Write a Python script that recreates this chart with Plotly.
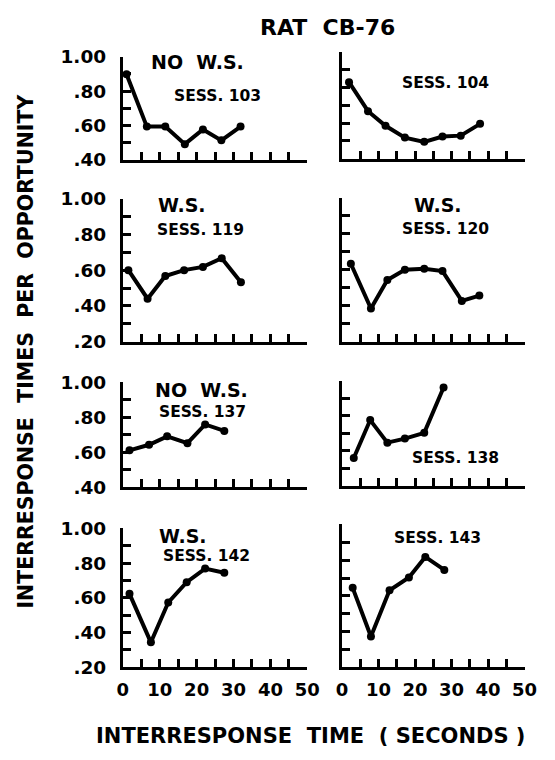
import plotly.graph_objects as go

W, H = 555, 760

# ---- data ----
X_103 = [1.0, 6.5, 11.5, 16.8, 21.7, 26.7, 31.9]
Y_103 = [0.898, 0.593, 0.593, 0.491, 0.576, 0.513, 0.593]
X_104 = [1.9, 7.1, 11.9, 17.2, 22.5, 27.5, 32.5, 37.8]
Y_104 = [0.83, 0.667, 0.585, 0.519, 0.495, 0.525, 0.53, 0.596]
X_119 = [1.5, 6.7, 11.5, 16.6, 21.7, 26.8, 32.0]
Y_119 = [0.60, 0.44, 0.567, 0.60, 0.618, 0.667, 0.532]
X_120 = [2.4, 7.9, 12.4, 17.2, 22.5, 27.5, 32.8, 37.6]
Y_120 = [0.633, 0.384, 0.543, 0.60, 0.605, 0.592, 0.426, 0.456]
X_137 = [1.8, 7.1, 12.0, 17.5, 22.3, 27.5]
Y_137 = [0.612, 0.644, 0.692, 0.653, 0.760, 0.723]
X_138 = [3.2, 7.7, 12.4, 17.2, 22.5, 27.8]
Y_138 = [0.557, 0.774, 0.645, 0.668, 0.701, 0.96]
X_142 = [1.8, 7.6, 12.3, 17.3, 22.3, 27.5]
Y_142 = [0.623, 0.344, 0.573, 0.69, 0.768, 0.744]
X_143 = [2.9, 7.9, 13.0, 18.3, 22.8, 28.0]
Y_143 = [0.645, 0.373, 0.631, 0.703, 0.818, 0.745]

Y_TICKS = [0.2, 0.3, 0.4, 0.5, 0.6, 0.7, 0.8, 0.9, 1.0]
Y_TICK_TEXT = [".20", "", ".40", "", ".60", "", ".80", "", "1.00"]
X_TICKS = [0, 5, 10, 15, 20, 25, 30, 35, 40, 45, 50]
X_TICK_TEXT = ["0", "", "10", "", "20", "", "30", "", "40", "", "50"]

TITLE = "RAT  CB-76"
X_TITLE = "INTERRESPONSE  TIME  ( SECONDS )"
Y_TITLE = "INTERRESPONSE  TIMES  PER  OPPORTUNITY"

# panel: (x, y, ymin, x-pixel span, y-pixel span, header, sess-label, header pos, sess pos, left?, bottom?)
panels = [
    (X_103, Y_103, 0.4, (121, 312), (47, 153), "NO  W.S.", "SESS. 103", (198, 52), (219, 87), True, False),
    (X_104, Y_104, 0.4, (348, 537), (42, 152), None, "SESS. 104", None, (455, 74), False, False),
    (X_119, Y_119, 0.2, (121, 312), (193, 340), "W.S.", "SESS. 119", (182, 200), (201, 225), True, False),
    (X_120, Y_120, 0.2, (348, 537), (192, 340), "W.S.", "SESS. 120", (447, 199), (455, 224), False, False),
    (X_137, Y_137, 0.4, (121, 312), (382, 490), "NO  W.S.", "SESS. 137", (202, 390), (203, 412), True, False),
    (X_138, Y_138, 0.4, (348, 537), (380, 488), None, "SESS. 138", None, (465, 460), False, False),
    (X_142, Y_142, 0.2, (121, 312), (532, 675), "W.S.", "SESS. 142", (183, 540), (208, 561), True, True),
    (X_143, Y_143, 0.2, (348, 537), (528, 675), None, "SESS. 143", None, (447, 542), False, True),
]

FONT = "DejaVu Sans"
fig = go.Figure()
layout = {}
annotations = []

def px_x(p):
    return p / W

def px_y(p):
    return 1 - p / H

for i, (xs, ys, ymin, xspan, yspan, head, sess, hpos, spos, left, bottom) in enumerate(panels):
    n = i + 1
    xa = "x" if n == 1 else f"x{n}"
    ya = "y" if n == 1 else f"y{n}"
    fig.add_trace(go.Scatter(
        x=xs, y=ys, xaxis=xa, yaxis=ya, mode="lines+markers",
        line=dict(color="black", width=4),
        marker=dict(color="black", size=8),
        hoverinfo="skip", showlegend=False, cliponaxis=False,
    ))
    yt = [v for v in Y_TICKS if v >= ymin - 1e-9]
    ytt = [Y_TICK_TEXT[Y_TICKS.index(v)] for v in yt]
    layout["xaxis" if n == 1 else f"xaxis{n}"] = dict(
        domain=[px_x(xspan[0]), px_x(xspan[1])], range=[0, 50],
        anchor=ya, showgrid=False, zeroline=False,
        showline=True, linecolor="black", linewidth=3,
        ticks="inside", ticklen=8, tickwidth=3, tickcolor="black",
        tickmode="array", tickvals=X_TICKS, ticktext=X_TICK_TEXT,
        showticklabels=bottom, ticklabelstandoff=4,
        tickfont=dict(family=FONT, size=18, color="black", weight="bold"),
        fixedrange=True,
    )
    layout["yaxis" if n == 1 else f"yaxis{n}"] = dict(
        domain=[px_y(yspan[1]), px_y(yspan[0])], range=[ymin, 1.0],
        anchor=xa, showgrid=False, zeroline=False,
        showline=True, linecolor="black", linewidth=3,
        ticks="inside", ticklen=8, tickwidth=3, tickcolor="black",
        tickmode="array", tickvals=yt, ticktext=ytt,
        showticklabels=left, ticklabelstandoff=10,
        tickfont=dict(family=FONT, size=18.5, color="black", weight="bold"),
        fixedrange=True,
    )
    if head:
        annotations.append(dict(text=head, x=px_x(hpos[0]), y=px_y(hpos[1]), xref="paper", yref="paper",
                                showarrow=False, xanchor="center", yanchor="middle",
                                font=dict(family=FONT, size=19, color="black", weight="bold")))
    annotations.append(dict(text=sess, x=px_x(spos[0]), y=px_y(spos[1]), xref="paper", yref="paper",
                            showarrow=False, xanchor="center", yanchor="middle",
                            font=dict(family=FONT, size=15.5, color="black", weight="bold")))

annotations.append(dict(text=TITLE, x=px_x(333), y=px_y(17), xref="paper", yref="paper",
                        showarrow=False, xanchor="center", yanchor="middle",
                        font=dict(family=FONT, size=22, color="black", weight="bold")))
annotations.append(dict(text=X_TITLE, x=px_x(315), y=px_y(746), xref="paper", yref="paper",
                        showarrow=False, xanchor="center", yanchor="middle",
                        font=dict(family=FONT, size=21, color="black", weight="bold")))
annotations.append(dict(text=Y_TITLE, x=px_x(21), y=px_y(350), xref="paper", yref="paper",
                        showarrow=False, xanchor="center", yanchor="middle", textangle=-90,
                        font=dict(family=FONT, size=20.5, color="black", weight="bold")))

fig.update_layout(
    width=W, height=H, margin=dict(l=0, r=0, t=0, b=0),
    paper_bgcolor="white", plot_bgcolor="white",
    annotations=annotations, **layout,
)
fig.write_html("out.html", config={"displayModeBar": False})
